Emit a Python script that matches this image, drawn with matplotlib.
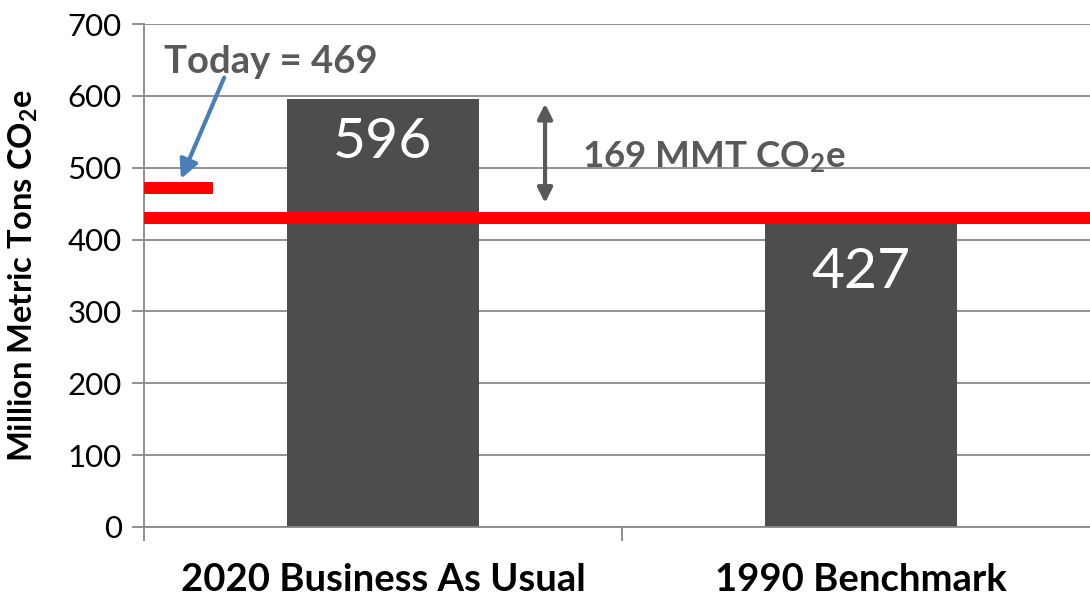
import numpy as np
import matplotlib.pyplot as plt

# Data
categories = ['2020 Business As Usual', '1990 Benchmark']
emissions = [596, 427]
target = 430
today = 469
gap = 169

plt.rcParams['font.family'] = ['Lato', 'DejaVu Sans']
plt.rcParams['mathtext.fontset'] = 'custom'
plt.rcParams['mathtext.rm'] = 'Lato:bold'
plt.rcParams['mathtext.it'] = 'Lato:bold'
plt.rcParams['mathtext.bf'] = 'Lato:bold'

fig = plt.figure(figsize=(10.9, 5.99), dpi=100)
ax = fig.add_axes([144 / 1090, 1 - 527 / 599, (1100 - 144) / 1090, 503 / 599])

x = np.arange(len(categories))
ax.bar(x, emissions, width=0.4, color='#4d4d4d', zorder=2)
ax.axhline(target, color='#ff0000', lw=8.6, zorder=3)
ax.hlines(today + 3, -0.5, -0.356, color='#ff0000', lw=8.6, zorder=3)

# bar labels
ax.text(x[0], 535, str(emissions[0]), color='white', fontsize=41,
        ha='center', va='center', zorder=4)
ax.text(x[1], 354, str(emissions[1]), color='white', fontsize=41,
        ha='center', va='center', zorder=4)

grey = '#595959'
ax.text(-0.234, 647, f'Today = {today}', color=grey, fontsize=27.5,
        fontweight='bold', ha='center', va='center')
ax.annotate('', xy=(-0.425, 481), xytext=(-0.33, 629),
            arrowprops=dict(arrowstyle='-|>', color='#4a7ebb', lw=3,
                            mutation_scale=28))
ax.annotate('', xy=(0.339, 447), xytext=(0.339, 593),
            arrowprops=dict(arrowstyle='<|-|>', color=grey, lw=3,
                            mutation_scale=22))
ax.text(0.416, 515, f'{gap} MMT CO$_2$e', color=grey, fontsize=26.5,
        fontweight='bold', ha='left', va='center')

ax.set_xlim(-0.5, 1.5)
ax.set_ylim(0, 700)
ax.set_yticks(range(0, 701, 100))
ax.set_xticks([-0.5, 0.5, 1.5])
ax.set_xticklabels([])
ax.set_xticks(x, minor=True)
ax.set_xticklabels(categories, minor=True, fontsize=27.5, fontweight='bold')
ax.tick_params(axis='x', which='minor', length=0, pad=26)
ax.tick_params(axis='x', which='major', length=10, color='#888888', width=1.3)
ax.tick_params(axis='y', length=9, color='#888888', width=1.3,
               labelsize=22.5, pad=7)
ax.grid(axis='y', color='#888888', lw=1.3, zorder=0)
for s in ['top', 'right']:
    ax.spines[s].set_visible(False)
for s in ['left', 'bottom']:
    ax.spines[s].set_color('#888888')
    ax.spines[s].set_linewidth(1.3)

ax.set_ylabel('Million Metric Tons CO$_2$e', fontsize=23.5, fontweight='bold')
ax.yaxis.set_label_coords(-0.109, 0.5)

fig.savefig('out.png', dpi=100)
